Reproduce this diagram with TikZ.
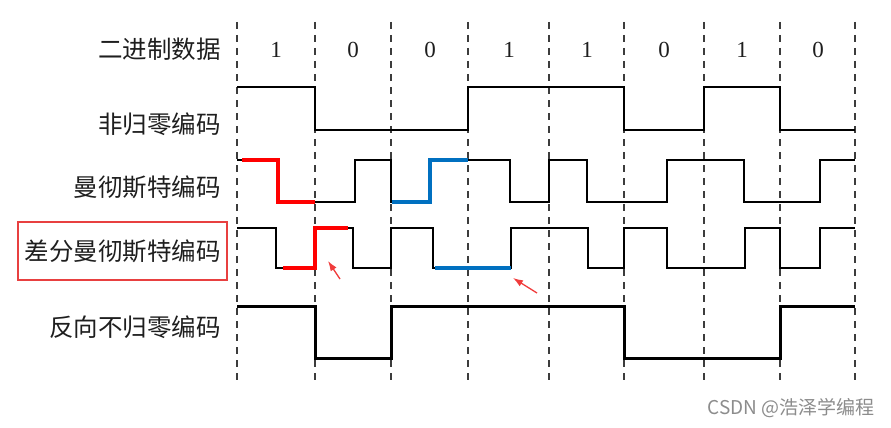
\documentclass[tikz,border=0pt]{standalone}
\usepackage{fontspec}
\newfontfamily\cjk{Noto Sans CJK SC}
\newfontfamily\digitfont{Liberation Serif}
\usetikzlibrary{arrows.meta}
\definecolor{hlred}{RGB}{255,0,0}
\definecolor{hlblue}{RGB}{0,112,192}
\definecolor{boxred}{RGB}{232,64,64}
\definecolor{gridgray}{RGB}{60,60,60}
\definecolor{labelcol}{RGB}{30,30,30}
\definecolor{wmgray}{RGB}{140,140,140}
\definecolor{arrowred}{RGB}{240,60,60}
\tikzset{
  gridline/.style={gridgray, line width=1.4pt, dash pattern=on 7pt off 6pt},
  signal/.style={black, line width=2.5pt, line join=miter},
  thicksignal/.style={black, line width=3pt, line join=miter},
  hlr/.style={hlred, line width=4.5pt, line join=miter},
  hlb/.style={hlblue, line width=4.5pt, line join=miter},
  rowlabel/.style={anchor=east, inner sep=0pt, font=\cjk\fontsize{24.5}{26}\selectfont, text=labelcol},
  bitlabel/.style={inner sep=0pt, font=\digitfont\fontsize{23}{23}\selectfont, text=labelcol},
  pointer/.style={arrowred, line width=1.3pt, -{Latex[length=10pt,width=7pt]}},
  markbox/.style={draw=boxred, line width=1.3pt}
}
\begin{document}
\begin{tikzpicture}[x=1pt,y=-1pt]
\useasboundingbox (0,0) rectangle (891,428);

% grid lines
\foreach \i/\x in {0/237,1/315,2/391,3/468,4/549,5/624,6/704,7/780,8/855}{
  \coordinate (t\i) at (\x,22);
  \coordinate (b\i) at (\x,382);
  \draw[gridline] (t\i) -- (b\i);
}

% bits
\foreach \i/\x/\b in {0/276/1,1/353/0,2/430/0,3/509/1,4/587/1,5/664/0,6/742/1,7/818/0}{
  \node[bitlabel] (bit\i) at (\x,50) {\b};
}

% row labels
\node[rowlabel] (l1) at (221,49) {二进制数据};
\node[rowlabel] (l2) at (221,124) {非归零编码};
\node[rowlabel] (l3) at (221,187) {曼彻斯特编码};
\node[rowlabel] (l4) at (221,251) {差分曼彻斯特编码};
\node[rowlabel] (l5) at (221,327) {反向不归零编码};
\draw[markbox] (18,222) rectangle (227,280);

% NRZ
\draw[signal] (237,87) -- (315,87) -- (315,130) -- (468,130) -- (468,87) -- (624,87) -- (624,130) -- (704,130) -- (704,87) -- (780,87) -- (780,130) -- (855,130);

% Manchester
\draw[signal] (237,160) -- (278,160) -- (278,202) -- (355,202) -- (355,160) -- (391,160) -- (391,202) -- (430,202) -- (430,160) -- (510,160) -- (510,202) -- (549,202) -- (549,160) -- (587,160) -- (587,202) -- (667,202) -- (667,160) -- (744,160) -- (744,202) -- (820,202) -- (820,160) -- (855,160);
\draw[hlr] (242,160) -- (278,160) -- (278,202) -- (315,202);
\draw[hlb] (392,202) -- (430,202) -- (430,160) -- (468,160);

% Differential Manchester
\draw[signal] (237,228) -- (276,228) -- (276,268) -- (315,268) -- (315,228) -- (353,228) -- (353,268) -- (391,268) -- (391,228) -- (433,228) -- (433,268) -- (511,268) -- (511,228) -- (588,228) -- (588,268) -- (624,268) -- (624,228) -- (667,228) -- (667,268) -- (745,268) -- (745,228) -- (780,228) -- (780,268) -- (820,268) -- (820,228) -- (855,228);
\draw[hlr] (283,268) -- (315,268) -- (315,228) -- (348,228);
\draw[hlb] (435,268) -- (511,268);

% NRZI
\draw[thicksignal] (237,306) -- (315,306) -- (315,358) -- (391,358) -- (391,306) -- (624,306) -- (624,358) -- (780,358) -- (780,306) -- (855,306);

% pointers
\coordinate (p1s) at (340,279);
\coordinate (p1e) at (328,261);
\coordinate (p2s) at (537,293);
\coordinate (p2e) at (513,278);
\draw[pointer] (p1s) -- (p1e);
\draw[pointer] (p2s) -- (p2e);

% watermark
\node[anchor=east, inner sep=0pt, text=wmgray, font=\cjk\fontsize{19}{19}\selectfont] (wm) at (875,408) {CSDN @浩泽学编程};
\end{tikzpicture}
\end{document}
